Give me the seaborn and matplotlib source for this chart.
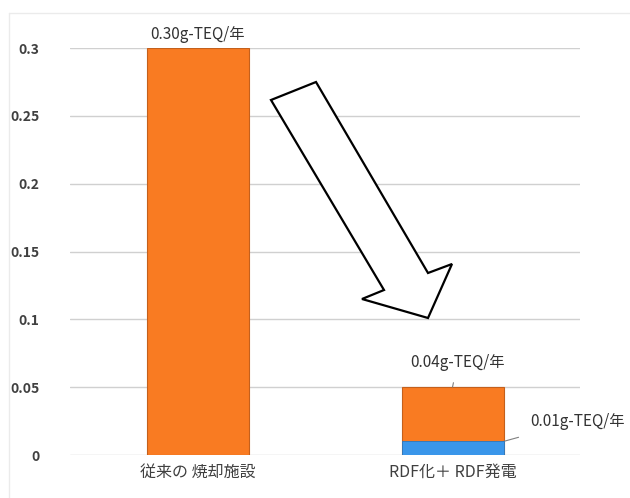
import matplotlib
matplotlib.use("Agg")
import matplotlib.pyplot as plt
import matplotlib.patches as mpatches
import matplotlib.lines as mlines
from matplotlib.ticker import FuncFormatter
import seaborn as sns
import pandas as pd
import numpy as np

categories = ["従来の 焼却施設", "RDF化＋ RDF発電"]
orange_values = [0.30, 0.04]
blue_values = [0.0, 0.01]
value_labels = ["0.30g-TEQ/年", "0.04g-TEQ/年", "0.01g-TEQ/年"]
yticks = [0, 0.05, 0.1, 0.15, 0.2, 0.25, 0.3]

sns.set_theme(style="white")
plt.rcParams['font.family'] = ['Noto Sans CJK JP', 'DejaVu Sans']

totals = [o + b for o, b in zip(orange_values, blue_values)]
df = pd.DataFrame({"cat": categories, "total": totals, "blue": blue_values})

fig = plt.figure(figsize=(6.3, 4.98), dpi=100)
ax = fig.add_axes([70/630, 1-455/498, 510/630, (455-48)/498])

sns.barplot(data=df, x="cat", y="total", color="#F97B22", saturation=1,
            width=0.4, edgecolor="#C4601C", linewidth=0.8, ax=ax, zorder=3)
sns.barplot(data=df, x="cat", y="blue", color="#3A96EA", saturation=1,
            width=0.4, edgecolor="#2A78C0", linewidth=0.6, ax=ax, zorder=4)

ax.set_xlim(-0.5, 1.5)
ax.set_ylim(0, 0.3)
ax.set_yticks(yticks)
ax.yaxis.set_major_formatter(FuncFormatter(lambda v, p: f"{v:g}"))
ax.grid(axis="y", color="#D0D0D0", linewidth=1, zorder=0)
ax.set_axisbelow(True)
for s in ax.spines.values():
    s.set_visible(False)
ax.set_xlabel("")
ax.set_ylabel("")
ax.tick_params(axis="y", length=0, pad=22, labelsize=10, labelcolor="#404040")
ax.tick_params(axis="x", length=0, pad=6, labelsize=11.5, labelcolor="#404040")
for lab in ax.get_yticklabels():
    lab.set_fontweight("bold")

# value labels
ax.text(0, totals[0] + 0.004, value_labels[0], ha="center", va="bottom",
        fontsize=11, color="#333333", clip_on=False)
ax.annotate(value_labels[1], xy=(1.0, totals[1]), xytext=(1.02, 0.068),
            ha="center", va="center", fontsize=11, color="#333333",
            arrowprops=dict(arrowstyle="-", color="#808080", lw=0.8,
                            shrinkA=6, shrinkB=0))
ax.annotate(value_labels[2], xy=(1.2, blue_values[1]), xytext=(1.49, 0.025),
            ha="center", va="center", fontsize=11, color="#333333",
            annotation_clip=False,
            arrowprops=dict(arrowstyle="-", color="#808080", lw=0.8,
                            shrinkA=12, shrinkB=0))

# decorative hollow arrow (figure pixel coords)
pts = [(271, 100), (316, 82), (428, 273), (452, 264), (428, 318), (362, 299), (384, 290)]
pts = [(x/630, 1 - y/498) for x, y in pts]
arrow = mpatches.Polygon(pts, closed=True, transform=fig.transFigure,
                         facecolor="white", edgecolor="black", linewidth=1.6, zorder=10)
fig.patches.append(arrow)

# faint frame (top and left edges only)
fig.lines.append(mlines.Line2D([9/630, 1], [1 - 13/498, 1 - 13/498], transform=fig.transFigure,
                               color="#EBEBEB", linewidth=1))
fig.lines.append(mlines.Line2D([9/630, 9/630], [0, 1 - 13/498], transform=fig.transFigure,
                               color="#EBEBEB", linewidth=1))

fig.savefig("out.png", dpi=100)
